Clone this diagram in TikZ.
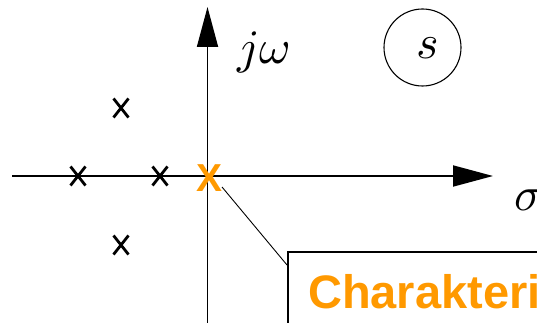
\documentclass[tikz,border=0pt]{standalone}
\usepackage{fontspec}
\DeclareFontShape{OML}{cmm}{m}{it}{<-> cmmi10}{}
\newfontfamily\labelfont{Liberation Sans}
\usetikzlibrary{arrows.meta}
\definecolor{pzorange}{RGB}{255,153,0}
\tikzset{
  axis/.style={line width=1.8pt, -{Triangle[length=40pt,width=21pt]}},
  pole/.style={line width=2.8pt},
  mathlbl/.style={inner sep=0pt, font=\fontsize{48}{50}\selectfont},
  calloutline/.style={line width=0.9pt},
  calloutbox/.style={draw, line width=1.6pt, anchor=north west, minimum width=300pt, minimum height=100pt, inner sep=0pt},
  callouttext/.style={inner sep=0pt, anchor=base west, text=pzorange, font=\labelfont\bfseries\fontsize{47}{49}\selectfont},
  orangex/.style={inner sep=0pt, text=pzorange, font=\labelfont\bfseries\fontsize{39}{40}\selectfont}
}
\begin{document}
\begin{tikzpicture}[x=1pt,y=-1pt]
\useasboundingbox (0,0) rectangle (537,323);
\clip (0,0) rectangle (537,323);
% axes
\coordinate (xstart) at (12,176);
\coordinate (xend) at (493,176);
\coordinate (ystart) at (207.5,330);
\coordinate (yend) at (207.5,7);
\draw[axis] (xstart) -- (xend);
\draw[axis] (ystart) -- (yend);
% labels
\node[mathlbl, anchor=base west] (jw) at (237,64) {$j\omega$};
\node[mathlbl, anchor=base west] (sigma) at (514,210) {$\sigma$};
\node[draw, circle, line width=1.1pt, minimum size=77pt, inner sep=0pt] (scirc) at (422.5,47.5) {};
\node[mathlbl, anchor=base] (slbl) at (428,59) {$s$};
% poles
\foreach \px/\py in {121/108, 121/245, 78/176, 160/176}{
  \draw[pole] (\px-7.5,\py-9.5) -- (\px+7.5,\py+9.5);
  \draw[pole] (\px-7.5,\py+9.5) -- (\px+7.5,\py-9.5);
}
% orange pole at origin
\node[orangex] (px) at (209.5,178) {X};
% callout
\node[calloutbox] (box) at (287,251) {};
\node[callouttext] (ctext) at (308,308) {Charakteri};
\coordinate (lstart) at (222,187);
\draw[calloutline] (lstart) -- ([yshift=-14pt]box.north west);
\end{tikzpicture}
\end{document}
